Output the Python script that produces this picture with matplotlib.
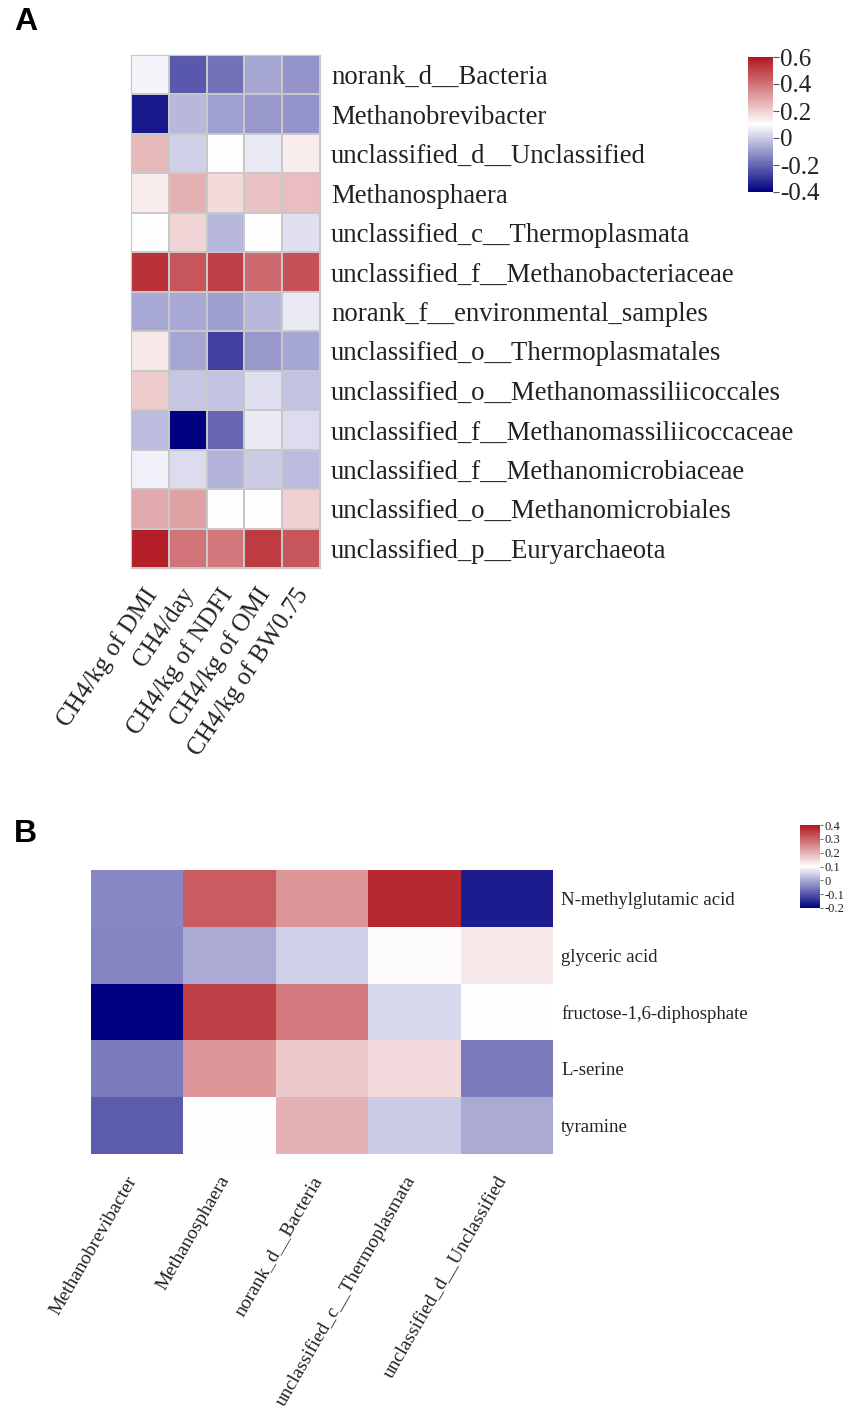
import numpy as np
import matplotlib
matplotlib.use("Agg")
import matplotlib.pyplot as plt
import matplotlib.transforms as mtransforms
from matplotlib.colors import LinearSegmentedColormap, Normalize
from matplotlib.cm import ScalarMappable

# ---------------- data ----------------
a_rows = ["norank_d__Bacteria", "Methanobrevibacter", "unclassified_d__Unclassified",
          "Methanosphaera", "unclassified_c__Thermoplasmata",
          "unclassified_f__Methanobacteriaceae", "norank_f__environmental_samples",
          "unclassified_o__Thermoplasmatales", "unclassified_o__Methanomassiliicoccales",
          "unclassified_f__Methanomassiliicoccaceae", "unclassified_f__Methanomicrobiaceae",
          "unclassified_o__Methanomicrobiales", "unclassified_p__Euryarchaeota"]
a_cols = ["CH4/kg of DMI", "CH4/day", "CH4/kg of NDFI", "CH4/kg of OMI", "CH4/kg of BW0.75"]
a_vals = [
    [0.08, -0.225, -0.175, -0.075, -0.11],
    [-0.35, -0.04, -0.085, -0.10, -0.11],
    [0.25, 0.01, 0.10, 0.06, 0.14],
    [0.14, 0.27, 0.18, 0.23, 0.24],
    [0.10, 0.19, -0.04, 0.10, 0.04],
    [0.54, 0.46, 0.51, 0.42, 0.47],
    [-0.07, -0.07, -0.09, -0.04, 0.06],
    [0.15, -0.075, -0.275, -0.10, -0.075],
    [0.21, -0.01, -0.02, 0.04, -0.02],
    [-0.03, -0.40, -0.20, 0.06, 0.03],
    [0.07, 0.03, -0.05, 0.00, -0.03],
    [0.28, 0.30, 0.10, 0.10, 0.20],
    [0.58, 0.40, 0.39, 0.52, 0.46],
]
a_ticks = [0.6, 0.4, 0.2, 0, -0.2, -0.4]
a_ticklabels = ["0.6", "0.4", "0.2", "0", "-0.2", "-0.4"]

b_rows = ["N-methylglutamic acid", "glyceric acid", "fructose-1,6-diphosphate", "L-serine", "tyramine"]
b_cols = ["Methanobrevibacter", "Methanosphaera", "norank_d__Bacteria",
          "unclassified_c__Thermoplasmata", "unclassified_d__Unclassified"]
b_vals = [
    [-0.04, 0.31, 0.235, 0.375, -0.165],
    [-0.045, 0.00, 0.045, 0.105, 0.13],
    [-0.20, 0.345, 0.27, 0.055, 0.10],
    [-0.055, 0.235, 0.17, 0.145, -0.055],
    [-0.09, 0.10, 0.20, 0.04, 0.00],
]
b_ticks = [0.4, 0.3, 0.2, 0.1, 0, -0.1, -0.2]
b_ticklabels = ["0.4", "0.3", "0.2", "0.1", "0", "-0.1", "-0.2"]

# ---------------- style ----------------
W, H = 851, 1420
fig = plt.figure(figsize=(W / 100, H / 100), dpi=100)
fig.patch.set_facecolor("white")
serif = ["Liberation Serif", "DejaVu Serif"]
txtc = "#222222"
cmap = LinearSegmentedColormap.from_list("bwr_custom", ["#000080", "#FFFFFF", "#B2161E"])


def ax_px(x0, y0, x1, y1):
    return fig.add_axes([x0 / W, 1 - y1 / H, (x1 - x0) / W, (y1 - y0) / H])


def shift_labels(labels, dx, dy):
    off = mtransforms.ScaledTranslation(dx / 100, -dy / 100, fig.dpi_scale_trans)
    for lab in labels:
        lab.set_transform(lab.get_transform() + off)

# ---------------- panel A ----------------
axA = ax_px(131, 55, 320, 568)
normA = Normalize(-0.4, 0.6)
A = np.array(a_vals)
axA.pcolormesh(np.arange(A.shape[1] + 1), np.arange(A.shape[0] + 1), A, cmap=cmap, norm=normA,
               edgecolors="#C8C8C8", linewidth=1.2)
axA.set_xlim(0, A.shape[1])
axA.set_ylim(A.shape[0], 0)
axA.set_yticks(np.arange(A.shape[0]) + 0.5)
axA.set_yticklabels(a_rows, family=serif, fontsize=19.3, color=txtc)
axA.yaxis.tick_right()
axA.set_xticks(np.arange(A.shape[1]) + 0.5)
axA.set_xticklabels(a_cols, family=serif, fontsize=18, rotation=56, ha="right", va="top",
                    rotation_mode="anchor", color=txtc)
axA.tick_params(axis="y", length=0, pad=8)
axA.tick_params(axis="x", length=0, pad=10)
shift_labels(axA.get_xticklabels(), -7, 2)
for s in axA.spines.values():
    s.set_color("#C8C8C8")

caxA = ax_px(748, 57, 773, 192)
cbA = fig.colorbar(ScalarMappable(norm=normA, cmap=cmap), cax=caxA)
cbA.outline.set_visible(False)
cbA.set_ticks(a_ticks)
cbA.set_ticklabels(a_ticklabels)
caxA.tick_params(length=4, width=0.8, colors="#555555", labelsize=18, pad=1)
for t in caxA.get_yticklabels():
    t.set_family(serif)
    t.set_color(txtc)

# ---------------- panel B ----------------
axB = ax_px(91, 870, 553, 1154)
normB = Normalize(-0.2, 0.4)
B = np.array(b_vals)
axB.pcolormesh(np.arange(B.shape[1] + 1), np.arange(B.shape[0] + 1), B, cmap=cmap, norm=normB,
               edgecolors="none")
axB.set_xlim(0, B.shape[1])
axB.set_ylim(B.shape[0], 0)
axB.set_yticks(np.arange(B.shape[0]) + 0.5)
axB.set_yticklabels(b_rows, family=serif, fontsize=13.5, color=txtc)
axB.yaxis.tick_right()
axB.set_xticks(np.arange(B.shape[1]) + 0.5)
axB.set_xticklabels(b_cols, family=serif, fontsize=14, rotation=60, ha="right", va="top",
                    rotation_mode="anchor", color=txtc)
axB.tick_params(axis="y", length=0, pad=6)
axB.tick_params(axis="x", length=0, pad=10)
shift_labels(axB.get_xticklabels(), -11, 5)
for s in axB.spines.values():
    s.set_visible(False)

caxB = ax_px(800, 825, 820, 908)
cbB = fig.colorbar(ScalarMappable(norm=normB, cmap=cmap), cax=caxB)
cbB.outline.set_visible(False)
cbB.set_ticks(b_ticks)
cbB.set_ticklabels(b_ticklabels)
caxB.tick_params(length=2, width=0.6, colors="#555555", labelsize=9, pad=1)
for t in caxB.get_yticklabels():
    t.set_family(serif)
    t.set_color(txtc)

# panel labels
fig.text(14 / W, 1 - 22 / H, "A", fontsize=23, fontweight="bold", family="Liberation Sans",
         va="center", ha="left")
fig.text(14 / W, 1 - 834 / H, "B", fontsize=23, fontweight="bold", family="Liberation Sans",
         va="center", ha="left")

fig.savefig("out.png", dpi=100, facecolor="white")
